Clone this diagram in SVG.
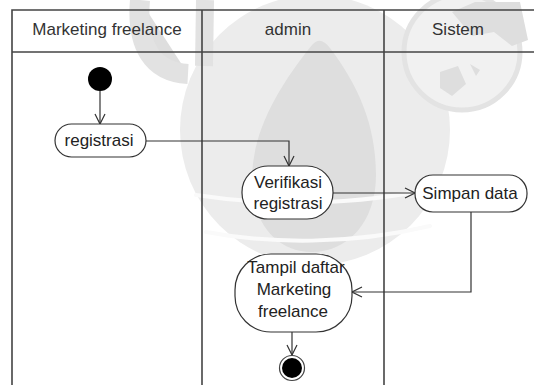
<svg xmlns="http://www.w3.org/2000/svg" width="534" height="385" viewBox="0 0 534 385">
  <defs>
    <marker id="open" viewBox="0 0 12 12" refX="11" refY="6" markerWidth="12" markerHeight="12" markerUnits="userSpaceOnUse" orient="auto">
      <path d="M1,1 L11,6 L1,11" fill="none" stroke="#333" stroke-width="1.2"/>
    </marker>
    <style>
      .lane { fill: none; stroke: #444; stroke-width: 1.6; }
      .hdr { font-family: "Liberation Sans", Arial, sans-serif; font-size: 17px; fill: #333; text-anchor: middle; }
      .act { fill: #fff; stroke: #333; stroke-width: 1.2; }
      .lbl { font-family: "Liberation Sans", Arial, sans-serif; font-size: 17px; fill: #222; text-anchor: middle; }
      .flow { fill: none; stroke: #333; stroke-width: 1.2; marker-end: url(#open); }
      .wm { fill: #ececec; }
      .wm2 { fill: #dedede; }
      .stripe { fill: none; stroke: #fafafa; stroke-width: 4; stroke-linecap: round; }
    </style>
  </defs>

  <rect width="534" height="385" fill="#fff"/>

  <!-- faint background logo -->
  <g id="watermark">
    <circle class="wm" cx="315" cy="130" r="135"/>
    <path class="wm2" d="M140,0 C136,45 152,72 188,74" fill="none" stroke="#e2e2e2" stroke-width="20"/>
    <path d="M205,0 L204,66" fill="none" stroke="#e2e2e2" stroke-width="18"/>
    <path class="wm2" d="M312,45 C318,38 324,40 330,48 C358,85 376,125 376,175 C376,222 348,252 312,252 C276,252 252,222 252,180 C252,130 280,85 312,45 Z"/>
    <path class="stripe" d="M196,195 C260,205 350,208 445,186"/>
    <path class="stripe" d="M206,232 C270,244 350,245 430,226"/>
    <circle cx="462" cy="52" r="58" fill="#f1f1f1" stroke="#e3e3e3" stroke-width="5"/>
    <path class="wm2" d="M452,12 L475,2 L520,2 L528,40 L512,46 L494,32 L472,36 Z"/>
    <path class="wm2" d="M440,72 L458,66 L466,84 L452,96 L440,88 Z"/>
    <path class="wm2" d="M470,64 L480,70 L476,76 Z"/>
  </g>

  <!-- swimlanes -->
  <g id="lanes">
    <path class="lane" d="M12,385 L12,10 L540,10"/>
    <line class="lane" x1="12" y1="52" x2="540" y2="52"/>
    <line class="lane" x1="202" y1="10" x2="202" y2="385"/>
    <line class="lane" x1="384" y1="10" x2="384" y2="385"/>
    <text class="hdr" x="107" y="35">Marketing freelance</text>
    <text class="hdr" x="288" y="35">admin</text>
    <text class="hdr" x="458" y="35">Sistem</text>
  </g>

  <!-- connectors -->
  <g id="connectors">
    <path class="flow" d="M100,91 L100,124"/>
    <path class="flow" d="M146,141 L289,141 L289,166"/>
    <path class="flow" d="M333,193 L415,193"/>
    <path class="flow" d="M471,212 L471,292 L352,292"/>
    <path class="flow" d="M292,332 L292,355"/>
  </g>

  <g id="start">
    <circle cx="100" cy="79" r="12" fill="#000"/>
  </g>

  <g id="registrasi">
    <rect class="act" x="55" y="124" width="91" height="33" rx="16.5"/>
    <text class="lbl" x="99" y="146">registrasi</text>
  </g>

  <g id="verifikasi">
    <rect class="act" x="242" y="166" width="91" height="53" rx="26"/>
    <text class="lbl" x="288" y="188">Verifikasi</text>
    <text class="lbl" x="288" y="209">registrasi</text>
  </g>

  <g id="simpan">
    <rect class="act" x="415" y="175" width="112" height="37" rx="18"/>
    <text class="lbl" x="470" y="199">Simpan data</text>
  </g>

  <g id="tampil">
    <rect class="act" x="235" y="254" width="117" height="78" rx="36"/>
    <text class="lbl" x="296" y="273">Tampil daftar</text>
    <text class="lbl" x="294" y="295">Marketing</text>
    <text class="lbl" x="293" y="317">freelance</text>
  </g>

  <g id="end">
    <circle cx="292" cy="368" r="12.5" fill="#fff" stroke="#444" stroke-width="1.2"/>
    <circle cx="292" cy="368" r="10" fill="#000"/>
  </g>
</svg>
